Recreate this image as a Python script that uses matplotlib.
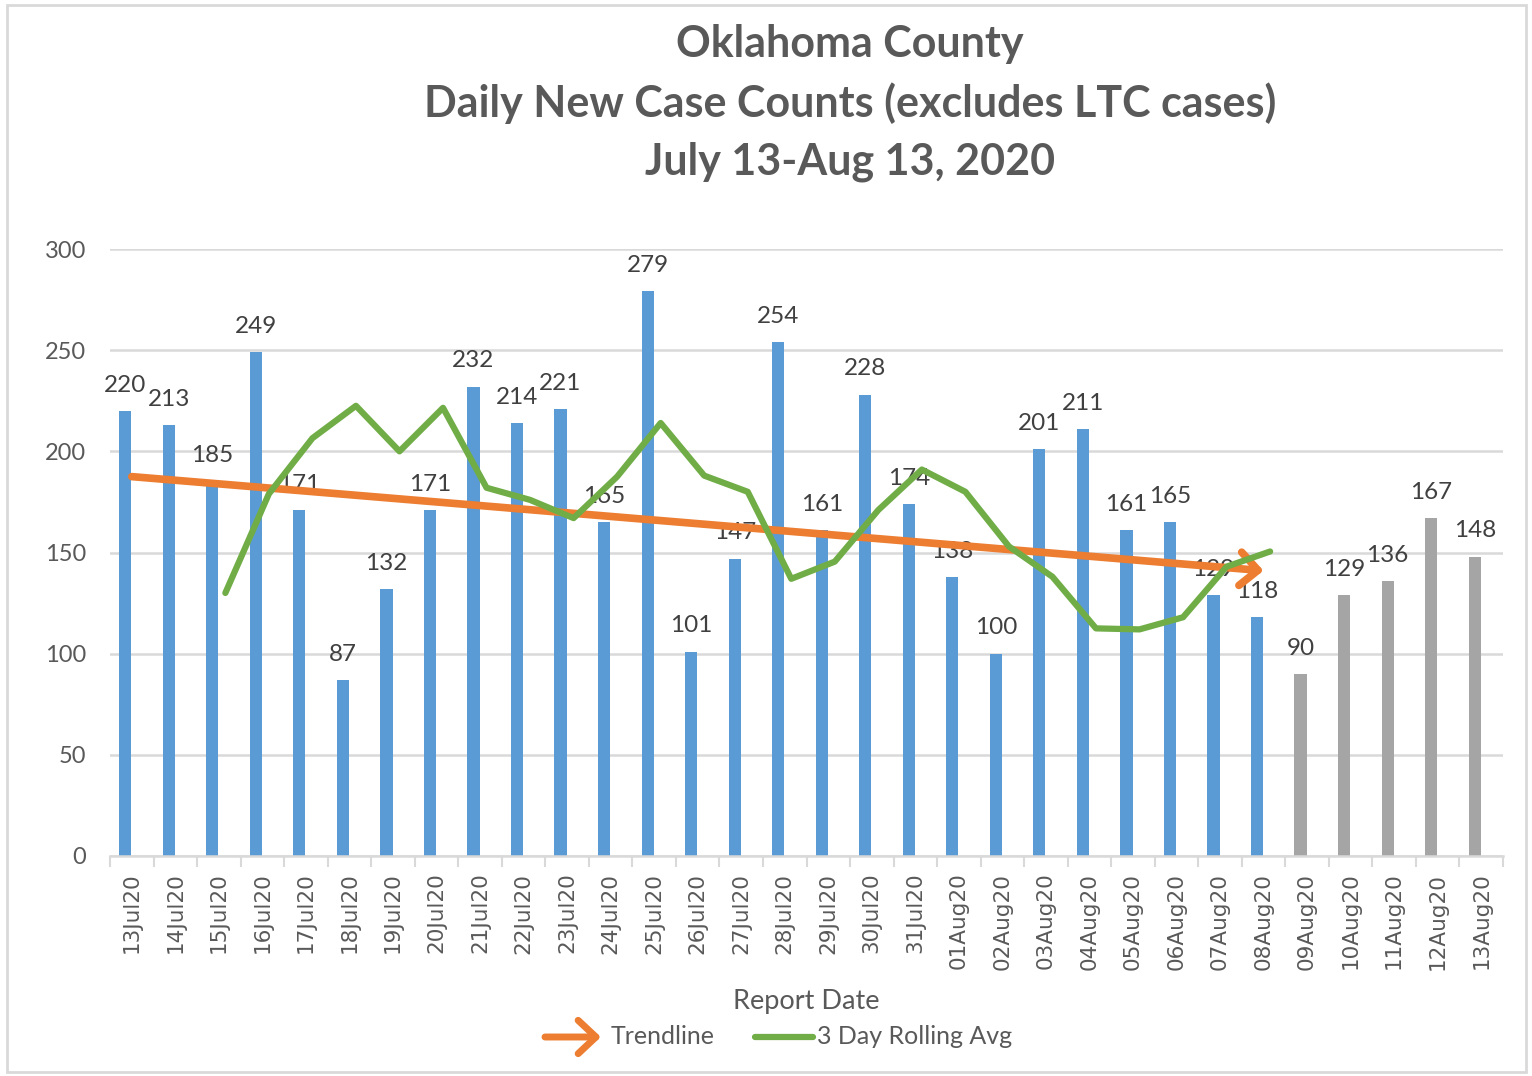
import numpy as np
import matplotlib
matplotlib.use("Agg")
import matplotlib.pyplot as plt
from matplotlib.patches import Rectangle, FancyArrowPatch
from matplotlib.lines import Line2D

plt.rcParams['font.family'] = ['Lato', 'DejaVu Sans']

dates = ["13Jul20", "14Jul20", "15Jul20", "16Jul20", "17Jul20", "18Jul20", "19Jul20",
         "20Jul20", "21Jul20", "22Jul20", "23Jul20", "24Jul20", "25Jul20", "26Jul20",
         "27Jul20", "28Jul20", "29Jul20", "30Jul20", "31Jul20", "01Aug20", "02Aug20",
         "03Aug20", "04Aug20", "05Aug20", "06Aug20", "07Aug20", "08Aug20", "09Aug20",
         "10Aug20", "11Aug20", "12Aug20", "13Aug20"]
cases = [220, 213, 185, 249, 171, 87, 132, 171, 232, 214, 221, 165, 279, 101, 147, 254,
         161, 228, 174, 138, 100, 201, 211, 161, 165, 129, 118, 90, 129, 136, 167, 148]
n_blue = 27  # 13Jul..08Aug in blue, the rest in gray

# 3 day rolling avg, 15Jul..08Aug
rolling = [130, 179, 206.5, 222.5, 200, 221.5, 182, 176, 167, 187.5, 214, 188, 180,
           137, 145.5, 171, 191, 180, 153, 138, 112.5, 112, 118, 143, 150.5]
rolling_start = 2

# trendline endpoints (13Jul -> 08Aug)
trend_start = 187.5
trend_end = 141

blue = '#5b9bd5'
gray = '#a5a5a5'
orange = '#ed7d31'
green = '#70ad47'
txt = '#595959'

arrow_style = '->,head_length=0.8,head_width=0.75'

fig = plt.figure(figsize=(15.32, 10.76), dpi=100)
ax = fig.add_axes([110/1532, 1-856/1076, 1393/1532, 607/1076])

x = np.arange(len(cases))
colors = [blue]*n_blue + [gray]*(len(cases)-n_blue)
ax.bar(x - 0.15, cases, width=0.28, color=colors, zorder=2)

for xi, v in zip(x, cases):
    ax.annotate(str(v), (xi - 0.15, v), xytext=(0, 11), textcoords='offset points',
                ha='center', va='bottom', fontsize=17.5, color='#404040', zorder=3)

# trendline arrow
ax.annotate('', xy=(n_blue - 1, trend_end), xytext=(0, trend_start),
            arrowprops=dict(arrowstyle=arrow_style, mutation_scale=16,
                            color=orange, lw=5.5, shrinkA=0, shrinkB=0,
                            capstyle='round', joinstyle='round'), zorder=4)

xr = np.arange(rolling_start, rolling_start + len(rolling)) + 0.15
ax.plot(xr, rolling, color=green, lw=4.5, solid_capstyle='round',
        solid_joinstyle='round', zorder=5)

ax.set_xlim(-0.5, len(cases) - 0.5)
ax.set_ylim(0, 300)
ax.set_yticks([0, 50, 100, 150, 200, 250, 300])
ax.yaxis.grid(True, color='#d9d9d9', lw=1.8, zorder=0)
ax.set_axisbelow(True)
ax.tick_params(axis='y', length=0, pad=17, labelsize=17, labelcolor=txt)

ax.set_xticks(np.arange(len(cases) + 1) - 0.5)
ax.set_xticklabels([])
ax.tick_params(axis='x', which='major', length=8, width=1.5, color='#d9d9d9')
ax.set_xticks(x, minor=True)
ax.set_xticklabels(dates, minor=True, rotation=90, fontsize=15.5, color=txt,
                   family='DejaVu Sans')
ax.tick_params(axis='x', which='minor', length=0, pad=12)

for s in ['top', 'right', 'left']:
    ax.spines[s].set_visible(False)
ax.spines['bottom'].set_color('#d9d9d9')
ax.spines['bottom'].set_linewidth(1.8)

fig.text(806/1532, 1-1001/1076, 'Report Date', ha='center', va='center',
         fontsize=19.5, color=txt)

# titles
tx = 850/1532
fig.text(tx, 1-44/1076, 'Oklahoma County', ha='center', va='center',
         fontsize=31, fontweight='bold', color=txt)
fig.text(tx, 1-103/1076, 'Daily New Case Counts (excludes LTC cases)', ha='center',
         va='center', fontsize=31, fontweight='bold', color=txt)
fig.text(tx, 1-162/1076, 'July 13-Aug 13, 2020', ha='center', va='center',
         fontsize=31, fontweight='bold', color=txt)

# legend
ly = 1 - 1037/1076
fig.patches.append(FancyArrowPatch(
    (545/1532, ly), (601/1532, ly), transform=fig.transFigure,
    arrowstyle=arrow_style, mutation_scale=16, color=orange, lw=5,
    capstyle='round', joinstyle='round', shrinkA=0, shrinkB=0))
fig.text(611/1532, ly, 'Trendline', ha='left', va='center', fontsize=18, color=txt)
fig.lines.append(Line2D([755/1532, 813/1532], [ly, ly], transform=fig.transFigure,
                        color=green, lw=4.5, solid_capstyle='round'))
fig.text(817/1532, ly, '3 Day Rolling Avg', ha='left', va='center', fontsize=18,
         color=txt)

# chart border
fig.patches.append(Rectangle((7/1532, 4/1076), 1519/1532, 1067/1076,
                             transform=fig.transFigure, fill=False,
                             edgecolor='#d9d9d9', lw=2))

fig.savefig('out.png', dpi=100)
